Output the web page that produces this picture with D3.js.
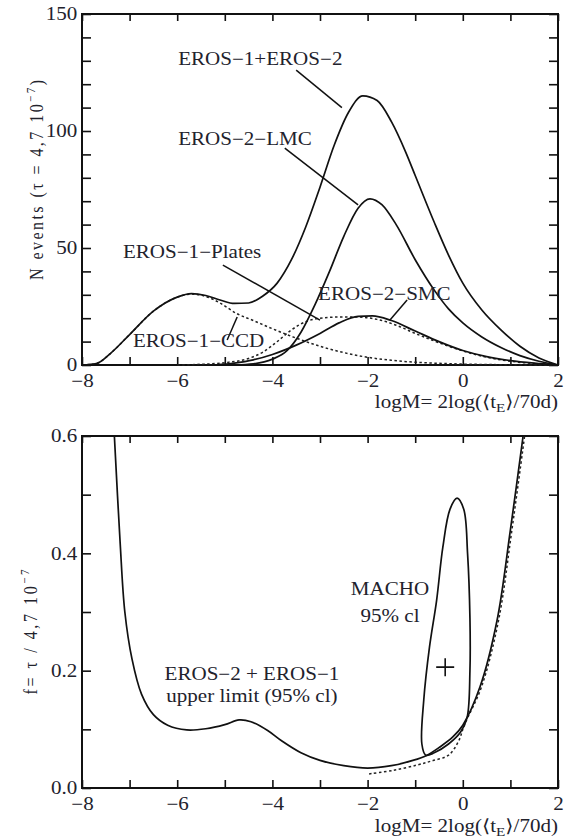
<!DOCTYPE html>
<html lang="en">
<head>
    <meta charset="UTF-8">
    <title>EROS microlensing limits</title>
    <script src="https://d3js.org/d3.v7.min.js"></script>
    <style>
        body { margin: 0; background: #fff; }
        text { font-family: "Liberation Serif", "DejaVu Serif", serif; fill: #22222c; }
    </style>
</head>
<body>
<svg width="573" height="838"></svg>

<script>
    // ---------- data ----------
    const xTickLabels = [-8, -6, -4, -2, 0, 2];
    const topYTickLabels = [0, 50, 100, 150];
    const botYTickLabels = [0, 0.2, 0.4, 0.6];

    // top panel: expected number of events vs logM
    const totalCurve = [[-8,0],[-7.7,0.6],[-7.4,5],[-7,13],[-6.5,23],[-6,29],[-5.7,30.5],[-5.4,29.7],[-5.1,27.8],
        [-4.8,26.3],[-4.5,26.5],[-4.2,29.5],[-3.9,35],[-3.6,45],[-3.3,59],[-3,76],[-2.7,94],[-2.4,108],[-2.1,115],
        [-1.8,113],[-1.5,104],[-1.2,91],[-1,81],[-0.6,61],[-0.3,47],[0,35],[0.4,23.5],[0.8,15],[1.2,8],[1.6,3],[2,0]];
    const lmcCurve = [[-4.8,0],[-4.4,0.5],[-4,2.5],[-3.7,6],[-3.4,14],[-3.1,26],[-2.8,40],[-2.5,55],[-2.2,67],[-1.95,71],
        [-1.7,68.5],[-1.4,60],[-1,45],[-0.6,32],[-0.3,24],[0,18],[0.4,12],[0.8,7.5],[1.2,4],[1.6,1.6],[2,0]];
    const smcCurve = [[-5.2,0],[-4.8,0.8],[-4.4,2.2],[-4,4.5],[-3.5,8.5],[-3,13.5],[-2.6,18],[-2.2,20.8],[-1.9,21],
        [-1.5,19],[-1,14.5],[-0.5,10],[0,6.2],[0.5,3.6],[1,1.9],[1.5,0.8],[2,0]];
    const ccdCurve = [[-8,0],[-7.7,0.6],[-7.4,5],[-7,13],[-6.5,23],[-6,29],[-5.7,30.3],[-5.4,29.3],[-5.1,26.5],
        [-4.75,22],[-4.4,19],[-4,15.5],[-3.5,11.5],[-3,8],[-2.5,5.3],[-2,3.3],[-1.5,2],[-1,1.2],[0,0.4],[1,0.1],[2,0]];
    const platesCurve = [[-6,0],[-5.5,0.3],[-5,1],[-4.5,2.8],[-4.2,5.5],[-3.9,10],[-3.6,15],[-3.3,18.5],[-3,20],
        [-2.6,20.5],[-2.2,20.5],[-1.8,19.5],[-1.4,17],[-1,13.5],[-0.5,9.5],[0,6],[0.5,3.3],[1,1.6],[1.5,0.6],[2,0]];

    const topLabels = [
        {text: "EROS\u22121+EROS\u22122", at: [-5.98, 128], line: [[-3.5,126],[-2.54,110]]},
        {text: "EROS\u22122\u2212LMC", at: [-5.98, 94], line: [[-3.74,92.7],[-2.2,68.4]]},
        {text: "EROS\u22121\u2212Plates", at: [-7.14, 45.7], line: [[-5.04,42.7],[-3.0,19.2]]},
        {text: "EROS\u22121\u2212CCD", at: [-6.93, 7.7], line: [[-4.95,10.7],[-4.74,20.5]]},
        {text: "EROS\u22122\u2212SMC", at: [-3.04, 27.8], line: [[-1.17,27.8],[-1.53,19.2]]}
    ];

    // bottom panel: halo fraction limits
    const limitCurve = [[-7.32,0.6],[-7.2,0.42],[-7.1,0.3],[-6.95,0.22],[-6.75,0.16],[-6.5,0.125],[-6.2,0.107],
        [-5.8,0.099],[-5.4,0.101],[-5,0.108],[-4.7,0.116],[-4.45,0.113],[-4.1,0.098],[-3.8,0.08],[-3.4,0.06],
        [-3,0.047],[-2.5,0.038],[-2,0.034],[-1.5,0.038],[-1.05,0.047],[-0.75,0.056],[-0.48,0.07],[-0.21,0.087],
        [0,0.107],[0.36,0.172],[0.72,0.286],[1,0.44],[1.3,0.62]];
    const limitDotted = [[-2,0.024],[-1.5,0.03],[-1,0.039],[-0.69,0.046],[-0.33,0.056],[-0.12,0.08],[0,0.107],
        [0.36,0.172],[0.72,0.286],[1,0.44],[1.3,0.62]];
    const machoContour = [[-0.12,0.494],[0.02,0.475],[0.1,0.40],[0.15,0.29],[0.15,0.2],[0.09,0.12],[-0.05,0.095],
        [-0.3,0.075],[-0.6,0.06],[-0.78,0.056],[-0.86,0.075],[-0.82,0.15],[-0.7,0.24],[-0.55,0.32],[-0.42,0.41],[-0.27,0.475]];
    const machoBest = [-0.37, 0.206];

    const botLabels = [
        {text: "MACHO", at: [-1.53, 0.329]},
        {text: "95% cl", at: [-1.53, 0.283]},
        {text: "EROS\u22122 + EROS\u22121", at: [-4.43, 0.184]},
        {text: "upper limit (95% cl)", at: [-4.43, 0.147]}
    ];

    // ---------- layout ----------
    const SX = 1.17;      // lettering in the figure is stretched sideways
    const left = 82, right = 558;
    const svg = d3.select("svg");
    const fmtMinus = d => d < 0 ? "\u2212" + Math.abs(d) : String(d);

    function stretched(g, x, y, anchor, size) {
        return g.append("text")
            .attr("transform", `translate(${x},${y}) scale(${SX},1)`)
            .attr("text-anchor", anchor)
            .style("font-size", size + "px");
    }

    function panel(top, bottom, yDomain, yMinor, yMajor, yFmt) {
        const x = d3.scaleLinear().domain([-8, 2]).range([left, right]);
        const y = d3.scaleLinear().domain(yDomain).range([bottom, top]);
        const g = svg.append("g");
        const xMinor = d3.range(-8, 2.01, 1);

        const isMajor = (list, v) => list.some(m => Math.abs(m - v) < 1e-6);

        g.append("g").attr("transform", `translate(0,${bottom})`)
            .call(d3.axisBottom(x).tickValues(xMinor).tickSize(-8).tickSizeOuter(0).tickPadding(9)
                .tickFormat(v => isMajor(xTickLabels, v) ? fmtMinus(v) : ""));
        g.append("g").attr("transform", `translate(0,${top})`)
            .call(d3.axisTop(x).tickValues(xMinor).tickSize(-7).tickSizeOuter(0).tickFormat(""));
        g.append("g").attr("transform", `translate(${left},0)`)
            .call(d3.axisLeft(y).tickValues(yMinor).tickSize(-9).tickSizeOuter(0).tickPadding(4)
                .tickFormat(v => isMajor(yMajor, v) ? yFmt(v) : ""));
        g.append("g").attr("transform", `translate(${right},0)`)
            .call(d3.axisRight(y).tickValues(yMinor).tickSize(-9).tickSizeOuter(0).tickFormat(""));

        g.selectAll(".tick line").attr("stroke", "#111").attr("stroke-width", 1.6);
        g.selectAll(".domain").remove();
        g.selectAll(".tick text")
            .attr("fill", "#22222c")
            .style("font-family", "Liberation Serif, serif")
            .style("font-size", "18px")
            .attr("transform", `scale(${SX},1)`);

        g.append("rect").attr("x", left).attr("y", top)
            .attr("width", right - left).attr("height", bottom - top)
            .attr("fill", "none").attr("stroke", "#111").attr("stroke-width", 2);
        return {x, y, g};
    }

    // ---------- top panel ----------
    const P1 = panel(14, 365, [0, 150], d3.range(0, 150.1, 10), topYTickLabels, v => String(v));
    const line1 = d3.line().x(d => P1.x(d[0])).y(d => P1.y(d[1])).curve(d3.curveMonotoneX);

    [ccdCurve, platesCurve].forEach(c => P1.g.append("path").attr("d", line1(c))
        .attr("fill", "none").attr("stroke", "#222").attr("stroke-width", 1.5).attr("stroke-dasharray", "2.5,2.5"));
    [totalCurve, lmcCurve, smcCurve].forEach(c => P1.g.append("path").attr("d", line1(c))
        .attr("fill", "none").attr("stroke", "#111").attr("stroke-width", 1.7));

    topLabels.forEach(l => {
        P1.g.append("line")
            .attr("x1", P1.x(l.line[0][0])).attr("y1", P1.y(l.line[0][1]))
            .attr("x2", P1.x(l.line[1][0])).attr("y2", P1.y(l.line[1][1]))
            .attr("stroke", "#111").attr("stroke-width", 1.5);
        stretched(P1.g, P1.x(l.at[0]), P1.y(l.at[1]), "start", 18).text(l.text);
    });

    const xl1 = stretched(svg, right, 408, "end", 18);
    xl1.append("tspan").text("logM= 2log(\u27E8t");
    xl1.append("tspan").attr("baseline-shift", "-25%").style("font-size", "13px").text("E");
    xl1.append("tspan").text("\u27E9/70d)");

    const yl1 = svg.append("text")
        .attr("transform", `translate(43,180) scale(${SX},1) rotate(-90)`)
        .attr("text-anchor", "middle").style("font-size", "16px")
        .attr("textLength", 200).attr("lengthAdjust", "spacing");
    yl1.append("tspan").text("N events   (\u03C4 = 4,7 10");
    yl1.append("tspan").attr("baseline-shift", "super").style("font-size", "11px").text("\u22127");
    yl1.append("tspan").text(")");

    // ---------- bottom panel ----------
    const P2 = panel(436, 788, [0, 0.6], d3.range(0, 0.601, 0.1).map(v => +v.toFixed(1)), botYTickLabels, d3.format(".1f"));
    svg.append("clipPath").attr("id", "clip2").append("rect")
        .attr("x", left).attr("y", 436).attr("width", right - left).attr("height", 788 - 436);
    const line2 = d3.line().x(d => P2.x(d[0])).y(d => P2.y(d[1])).curve(d3.curveCatmullRom.alpha(0.5));
    const cg = P2.g.append("g").attr("clip-path", "url(#clip2)");

    cg.append("path").attr("d", line2(limitDotted))
        .attr("fill", "none").attr("stroke", "#222").attr("stroke-width", 1.5).attr("stroke-dasharray", "2.5,2.5")
        .attr("transform", "translate(1.5,0)");
    cg.append("path").attr("d", line2(limitCurve))
        .attr("fill", "none").attr("stroke", "#111").attr("stroke-width", 1.7);
    cg.append("path")
        .attr("d", d3.line().x(d => P2.x(d[0])).y(d => P2.y(d[1])).curve(d3.curveCatmullRomClosed)(machoContour))
        .attr("fill", "none").attr("stroke", "#111").attr("stroke-width", 1.7);

    const cx = P2.x(machoBest[0]), cy = P2.y(machoBest[1]);
    cg.append("path").attr("d", `M${cx - 9},${cy}H${cx + 9}M${cx},${cy - 9}V${cy + 9}`)
        .attr("stroke", "#111").attr("stroke-width", 1.6);

    botLabels.forEach(l => stretched(P2.g, P2.x(l.at[0]), P2.y(l.at[1]), "middle", 18).text(l.text));

    const xl2 = stretched(svg, right, 832, "end", 18);
    xl2.append("tspan").text("logM= 2log(\u27E8t");
    xl2.append("tspan").attr("baseline-shift", "-25%").style("font-size", "13px").text("E");
    xl2.append("tspan").text("\u27E9/70d)");

    const yl2 = svg.append("text")
        .attr("transform", `translate(37,632) scale(${SX},1) rotate(-90)`)
        .attr("text-anchor", "middle").style("font-size", "16px")
        .attr("textLength", 125).attr("lengthAdjust", "spacing");
    yl2.append("tspan").text("f= \u03C4 / 4,7 10");
    yl2.append("tspan").attr("baseline-shift", "super").style("font-size", "11px").text("\u22127");
</script>
</body>
</html>
